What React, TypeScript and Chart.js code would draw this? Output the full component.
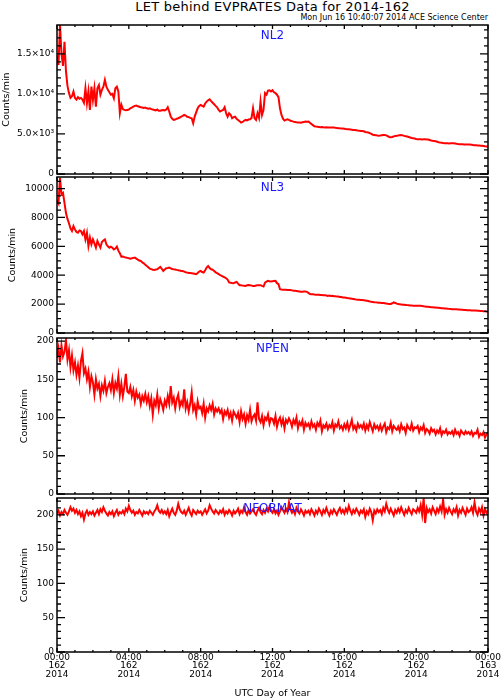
import React, { useEffect, useRef } from "react";
import { Chart, registerables } from "chart.js";

Chart.register(...registerables);

// ---------------- data (5-minute samples, one row = one hour) ----------------
const STEP_HOURS = 5 / 60;

const NL2 = [
  14800, 13600, 18600, 15000, 13500, 16500, 12800, 11000, 10100, 9500, 9700, 10300,
  9500, 9300, 9600, 9400, 9500, 9300, 8900, 10700, 8840, 10300, 8000, 10900,
  9250, 10700, 8400, 10700, 11100, 9900, 10500, 10900, 11750, 10900, 10500, 10200,
  9900, 10000, 9450, 10700, 10900, 10300, 7600, 8650, 8100, 8000, 7950, 8000,
  8050, 8200, 8300, 8400, 8500, 8550, 8450, 8400, 8330, 8300, 8250, 8300,
  8200, 8150, 8200, 8100, 8050, 8000, 7950, 8050, 7900, 7900, 7950, 8000,
  7950, 8050, 8330, 7800, 7160, 6900, 6750, 6800, 6900, 6960, 7050, 7160,
  7250, 7375, 7300, 7150, 7100, 7000, 6960, 6330, 7160, 7700, 8200, 8500,
  8625, 8500, 8400, 8800, 9040, 9200, 9330, 9100, 8900, 8700, 8500, 8330,
  8000, 7790, 7900, 8000, 8330, 7600, 7160, 7580, 7400, 6960, 7100, 7160,
  6900, 6750, 6600, 6420, 6500, 6650, 6750, 6700, 6800, 6830, 7000, 8200,
  6950, 6750, 7600, 7000, 9040, 7375, 8000, 10100, 9900, 10400, 10450, 10300,
  10450, 10200, 10100, 9900, 9600, 8200, 7375, 6900, 6670, 6750, 6830, 6750,
  6650, 6600, 6540, 6500, 6450, 6420, 6420, 6400, 6450, 6500, 6540, 6520,
  6540, 6400, 6250, 6100, 5950, 5920, 5900, 5880, 5850, 5860, 5830, 5820,
  5830, 5810, 5800, 5790, 5800, 5790, 5760, 5740, 5720, 5700, 5690, 5670,
  5650, 5620, 5600, 5580, 5560, 5530, 5500, 5480, 5450, 5420, 5400, 5380,
  5375, 5330, 5250, 5200, 5170, 5100, 5000, 4900, 4875, 4850, 4800, 4790,
  4800, 4830, 4860, 4875, 4820, 4720, 4620, 4580, 4620, 4700, 4750, 4780,
  4800, 4850, 4875, 4820, 4760, 4700, 4670, 4620, 4560, 4500, 4460, 4420,
  4380, 4350, 4330, 4340, 4320, 4330, 4340, 4320, 4300, 4250, 4180, 4140,
  4110, 4080, 4020, 3960, 3920, 3900, 3870, 3850, 3830, 3840, 3820, 3830,
  3840, 3830, 3810, 3770, 3740, 3720, 3710, 3700, 3690, 3680, 3680, 3670,
  3670, 3650, 3620, 3600, 3580, 3560, 3550, 3540, 3520, 3490, 3460, 3440,
  3420,
];

const NL3 = [
  9240, 9000, 10740, 9590, 9700, 9010, 8300, 7900, 7600, 7250, 7060, 7400,
  7170, 7000, 6940, 7100, 7060, 6830, 7060, 6480, 6940, 6020, 6600, 6140,
  6480, 6200, 5910, 6370, 6140, 5910, 6300, 6400, 6480, 6140, 6000, 5910,
  5980, 5900, 5790, 5850, 5980, 5700, 5520, 5290, 5300, 5250, 5220, 5200,
  5180, 5150, 5170, 5200, 5220, 5150, 5080, 5020, 4990, 4880, 4830, 4720,
  4640, 4550, 4460, 4420, 4380, 4370, 4400, 4410, 4500, 4580, 4450, 4300,
  4400, 4480, 4500, 4530, 4480, 4430, 4410, 4400, 4370, 4350, 4320, 4300,
  4290, 4250, 4200, 4180, 4160, 4150, 4140, 4120, 4100, 4070, 4150, 4250,
  4300, 4220, 4180, 4350, 4530, 4640, 4500, 4410, 4380, 4300, 4200, 4140,
  4080, 4000, 3960, 3910, 3850, 3790, 3700, 3500, 3480, 3460, 3450, 3500,
  3540, 3420, 3310, 3300, 3280, 3270, 3260, 3300, 3320, 3310, 3280, 3250,
  3260, 3290, 3310, 3300, 3310, 3260, 3220, 3490, 3550, 3610, 3580, 3560,
  3580, 3600, 3610, 3450, 3380, 3030, 3010, 3000, 2990, 2990, 2980, 2970,
  2970, 2950, 2930, 2920, 2910, 2890, 2870, 2850, 2860, 2870, 2870, 2850,
  2780, 2700, 2690, 2680, 2660, 2650, 2640, 2640, 2630, 2630, 2620, 2610,
  2600, 2570, 2590, 2560, 2570, 2540, 2550, 2520, 2530, 2500, 2490, 2460,
  2460, 2440, 2420, 2410, 2390, 2370, 2350, 2330, 2310, 2300, 2300, 2290,
  2280, 2270, 2250, 2230, 2210, 2180, 2170, 2150, 2130, 2120, 2110, 2100,
  2090, 2080, 2070, 2060, 2040, 2020, 2000, 2010, 2060, 2120, 2080, 2030,
  2000, 1990, 1980, 1960, 1950, 1940, 1930, 1920, 1910, 1900, 1890, 1890,
  1890, 1890, 1890, 1880, 1870, 1850, 1840, 1820, 1810, 1800, 1790, 1780,
  1770, 1760, 1750, 1740, 1730, 1720, 1710, 1700, 1690, 1680, 1670, 1660,
  1650, 1650, 1640, 1640, 1630, 1620, 1610, 1610, 1600, 1590, 1580, 1570,
  1570, 1560, 1560, 1550, 1550, 1540, 1540, 1530, 1520, 1510, 1500, 1480,
  1470,
];

const NPEN = [
  178, 190, 172, 194, 180, 186, 201, 176, 188, 166, 181, 162,
  172, 156, 168, 152, 174, 184, 158, 164, 150, 160, 140, 154,
  146, 130, 150, 138, 144, 128, 142, 135, 148, 132, 140, 145,
  136, 150, 132, 145, 138, 154, 130, 144, 128, 140, 157, 134,
  132, 140, 128, 136, 122, 134, 126, 130, 118, 128, 122, 131,
  120, 128, 115, 125, 104, 122, 116, 130, 112, 124, 118, 110,
  122, 116, 128, 118, 141, 120, 126, 112, 124, 130, 114, 121,
  116, 137, 112, 120, 108, 118, 133, 110, 116, 104, 121, 112,
  114, 106, 118, 100, 112, 108, 116, 110, 118, 104, 112, 108,
  112, 106, 110, 98, 108, 104, 110, 100, 106, 96, 108, 104,
  100, 106, 94, 108, 98, 104, 92, 103, 97, 110, 95, 101,
  104, 96, 120, 98, 94, 102, 90, 100, 97, 104, 92, 99,
  98, 92, 102, 88, 96, 100, 91, 98, 86, 97, 93, 99,
  95, 88, 97, 92, 100, 86, 94, 90, 96, 84, 93, 89,
  92, 86, 95, 88, 91, 84, 93, 89, 96, 82, 90, 87,
  92, 85, 90, 87, 94, 83, 91, 88, 95, 86, 89, 84,
  91, 86, 93, 84, 90, 97, 85, 89, 83, 92, 87, 90,
  86, 92, 83, 90, 85, 94, 88, 82, 91, 86, 89, 84,
  90, 83, 88, 92, 81, 87, 85, 93, 82, 89, 86, 84,
  88, 82, 91, 85, 87, 80, 90, 86, 84, 92, 83, 87,
  86, 89, 81, 87, 84, 90, 80, 85, 83, 79, 86, 82,
  84, 78, 83, 80, 86, 77, 82, 80, 84, 78, 81, 79,
  82, 77, 84, 79, 81, 76, 83, 80, 78, 82, 79, 81,
  78, 82, 76, 80, 79, 84, 75, 79, 77, 81, 74, 78,
  80,
];

const NFORMAT = [
  202, 206, 199, 204, 201, 207, 203, 200, 205, 211, 206, 209,
  203, 207, 201, 205, 198, 203, 193, 202, 206, 200, 204, 201,
  205, 199, 203, 207, 201, 208, 204, 211, 206, 202, 199, 204,
  201, 205, 198, 203, 207, 200, 204, 202, 206, 201, 209, 205,
  213, 207, 203, 206, 200, 204, 202, 207, 203, 199, 205, 202,
  204, 201, 206, 203, 200, 205, 208, 214, 206, 203, 207, 202,
  205, 201, 207, 198, 204, 209, 203, 200, 206, 216, 208, 204,
  202, 206, 200, 205, 210, 203, 199, 207, 204, 201, 206, 203,
  205, 200, 204, 208, 202, 206, 214, 209, 205, 202, 207, 204,
  201, 206, 203, 208, 200, 205, 202, 207, 204, 199, 206, 202,
  205, 209, 201, 206, 203, 211, 204, 200, 207, 202, 205, 208,
  203, 200, 206, 210, 204, 201, 207, 203, 209, 205, 212, 206,
  203, 208, 202, 206, 200, 205, 211, 207, 203, 209, 204, 218,
  208, 203, 207, 201, 210, 205, 202, 208, 204, 199, 206, 203,
  206, 201, 208, 204, 199, 206, 202, 209, 205, 200, 207, 203,
  210, 204, 199, 206, 202, 208, 204, 200, 206, 210, 203, 207,
  202, 209, 204, 213, 206, 201, 207, 203, 209, 205, 200, 206,
  203, 208, 197, 205, 201, 209, 204, 192, 206, 202, 208, 204,
  207, 201, 210, 205, 216, 208, 203, 209, 204, 199, 207, 203,
  209, 204, 211, 205, 200, 207, 203, 210, 205, 201, 208, 206,
  203, 210, 205, 214, 200, 224, 188, 210, 204, 208, 202, 211,
  206, 201, 209, 204, 212, 205, 222, 200, 208, 203, 210, 205,
  201, 208, 204, 211, 199, 207, 203, 210, 205, 200, 209, 204,
  206, 211, 203, 218, 205, 200, 209, 204, 211, 199, 208, 203,
  206,
];

const X_TICKS = [0, 4, 8, 12, 16, 20, 24];
const X_LABELS = [
  ["00:00", "162", "2014"],
  ["04:00", "162", "2014"],
  ["08:00", "162", "2014"],
  ["12:00", "162", "2014"],
  ["16:00", "162", "2014"],
  ["20:00", "162", "2014"],
  ["00:00", "163", "2014"],
];

const NL2_TICKS = [0, 5000, 10000, 15000];
const NL2_LABELS = ["0", "5.0×10³", "1.0×10⁴", "1.5×10⁴"];
const NL3_TICKS = [0, 2000, 4000, 6000, 8000, 10000];
const NL3_LABELS = ["0", "2000", "4000", "6000", "8000", "10000"];
const COUNT_TICKS = [0, 50, 100, 150, 200];
const COUNT_LABELS = ["0", "50", "100", "150", "200"];

const TITLE = "LET behind EVPRATES Data for 2014-162";
const SUBTITLE = "Mon Jun 16 10:40:07 2014 ACE Science Center";
const Y_TITLE = "Counts/min";
const X_TITLE = "UTC Day of Year";

// ---------------- layout / style ----------------
const FONT = "'DejaVu Sans', 'Liberation Sans', sans-serif";
const PLOT_LEFT = 57;
const PLOT_RIGHT_PAD = 13;
const X_AXIS_HEIGHT = 48;

type PanelCfg = {
  label: string;
  values: number[];
  max: number;
  ticks: number[];
  labels: string[];
  minor: number;
  major: number;
  top: number;
  height: number;
  padTop: number;
  padBottom: number;
  titlePad: number;
  xAxis: boolean;
};

const PANELS: PanelCfg[] = [
  { label: "NL2", values: NL2, max: 18600, ticks: NL2_TICKS, labels: NL2_LABELS, minor: 1000, major: 5000, top: 0, height: 180, padTop: 25, padBottom: 6, titlePad: 1.3, xAxis: false },
  { label: "NL3", values: NL3, max: 10800, ticks: NL3_TICKS, labels: NL3_LABELS, minor: 500, major: 2000, top: 170, height: 169, padTop: 7, padBottom: 6, titlePad: 6.8, xAxis: false },
  { label: "NPEN", values: NPEN, max: 204, ticks: COUNT_TICKS, labels: COUNT_LABELS, minor: 10, major: 50, top: 330, height: 170, padTop: 8, padBottom: 6, titlePad: 18.8, xAxis: false },
  { label: "NFORMAT", values: NFORMAT, max: 224.5, ticks: COUNT_TICKS, labels: COUNT_LABELS, minor: 10, major: 50, top: 490, height: 210, padTop: 8, padBottom: 0, titlePad: 19.3, xAxis: true },
];

const framePlugin = {
  id: "frame",
  afterDatasetsDraw(chart: any, _args: any, opts: any) {
    const { ctx, chartArea: a, scales } = chart;
    const xs = scales.x;
    const ys = scales.y;
    ctx.save();
    ctx.strokeStyle = "#000";
    ctx.lineWidth = 1.3;
    ctx.beginPath();
    for (let h = 0; h <= 24; h++) {
      const px = xs.getPixelForValue(h);
      const len = h % 4 === 0 ? 4 : 2;
      ctx.moveTo(px, a.bottom);
      ctx.lineTo(px, a.bottom - len);
      ctx.moveTo(px, a.top);
      ctx.lineTo(px, a.top + len);
    }
    const n = Math.floor(ys.max / opts.minor + 1e-9);
    const ratio = Math.round(opts.major / opts.minor);
    for (let k = 0; k <= n; k++) {
      const py = ys.getPixelForValue(k * opts.minor);
      const len = k % ratio === 0 ? 8 : 4;
      ctx.moveTo(a.left, py);
      ctx.lineTo(a.left + len, py);
      ctx.moveTo(a.right, py);
      ctx.lineTo(a.right - len, py);
    }
    ctx.stroke();
    ctx.lineWidth = 1.5;
    ctx.strokeRect(a.left, a.top, a.right - a.left, a.bottom - a.top);
    ctx.fillStyle = "#1a1aff";
    ctx.font = `12px ${FONT}`;
    ctx.textAlign = "center";
    ctx.textBaseline = "alphabetic";
    ctx.fillText(opts.label, (a.left + a.right) / 2, a.top + 14);
    ctx.restore();
  },
};

function Panel({ cfg }: { cfg: PanelCfg }) {
  const ref = useRef<HTMLCanvasElement | null>(null);
  useEffect(() => {
    if (!ref.current) return;
    const points = cfg.values.map((v, i) => ({ x: i * STEP_HOURS, y: v }));
    const chart = new Chart(ref.current, {
      type: "line",
      data: {
        datasets: [
          {
            data: points,
            borderColor: "#ff0000",
            borderWidth: 2,
            pointRadius: 0,
            tension: 0,
            fill: false,
          },
        ],
      },
      options: {
        animation: false,
        responsive: false,
        maintainAspectRatio: false,
        events: [],
        layout: {
          padding: { left: 0, right: PLOT_RIGHT_PAD, top: cfg.padTop, bottom: cfg.padBottom },
        },
        plugins: {
          legend: { display: false },
          tooltip: { enabled: false },
          frame: { label: cfg.label, minor: cfg.minor, major: cfg.major },
        } as any,
        scales: {
          x: {
            type: "linear",
            min: 0,
            max: 24,
            display: cfg.xAxis,
            afterBuildTicks: (s: any) => {
              s.ticks = X_TICKS.map((v) => ({ value: v }));
            },
            afterFit: (s: any) => {
              s.height = cfg.xAxis ? X_AXIS_HEIGHT : 0;
              s.paddingLeft = 0;
              s.paddingRight = 0;
            },
            grid: { display: false, drawTicks: false },
            border: { display: false },
            ticks: {
              autoSkip: false,
              maxRotation: 0,
              minRotation: 0,
              padding: 1,
              color: "#000",
              font: { family: FONT, size: 9, lineHeight: 0.944 },
              callback: (_v: any, i: number) => X_LABELS[i],
            },
            title: {
              display: true,
              text: X_TITLE,
              color: "#000",
              font: { family: FONT, size: 9.5 },
              padding: { top: 0, bottom: 0.5 },
            },
          },
          y: {
            type: "linear",
            min: 0,
            max: cfg.max,
            afterBuildTicks: (s: any) => {
              s.ticks = cfg.ticks.map((v) => ({ value: v }));
            },
            afterFit: (s: any) => {
              s.width = PLOT_LEFT;
              s.paddingTop = 0;
              s.paddingBottom = 0;
            },
            grid: { display: false, drawTicks: false },
            border: { display: false },
            ticks: {
              autoSkip: false,
              padding: 3,
              color: "#000",
              font: { family: FONT, size: 9 },
              callback: (_v: any, i: number) => cfg.labels[i],
            },
            title: {
              display: true,
              text: Y_TITLE,
              color: "#000",
              font: { family: FONT, size: 9.5 },
              padding: { top: cfg.titlePad, bottom: 0 },
            },
          },
        },
      },
      plugins: [framePlugin as any],
    });
    return () => chart.destroy();
  }, [cfg]);
  return (
    <canvas
      ref={ref}
      width={501}
      height={cfg.height}
      style={{ position: "absolute", left: 0, top: cfg.top, width: 501, height: cfg.height }}
    />
  );
}

export default function App() {
  return (
    <div
      style={{
        position: "absolute",
        left: 0,
        top: 0,
        width: 501,
        height: 700,
        background: "#fff",
        overflow: "hidden",
      }}
    >
      <div
        style={{
          position: "absolute",
          left: 0,
          top: 0,
          width: 545,
          textAlign: "center",
          fontFamily: FONT,
          fontSize: 13,
          lineHeight: "13px",
          letterSpacing: "0.23px",
          color: "#000",
          whiteSpace: "nowrap",
        }}
      >
        {TITLE}
      </div>
      <div
        style={{
          position: "absolute",
          left: 0,
          top: 14,
          width: 488,
          textAlign: "right",
          fontFamily: FONT,
          fontSize: 8,
          lineHeight: "8px",
          color: "#000",
          whiteSpace: "nowrap",
        }}
      >
        {SUBTITLE}
      </div>
      {PANELS.map((p) => (
        <Panel key={p.label} cfg={p} />
      ))}
    </div>
  );
}
